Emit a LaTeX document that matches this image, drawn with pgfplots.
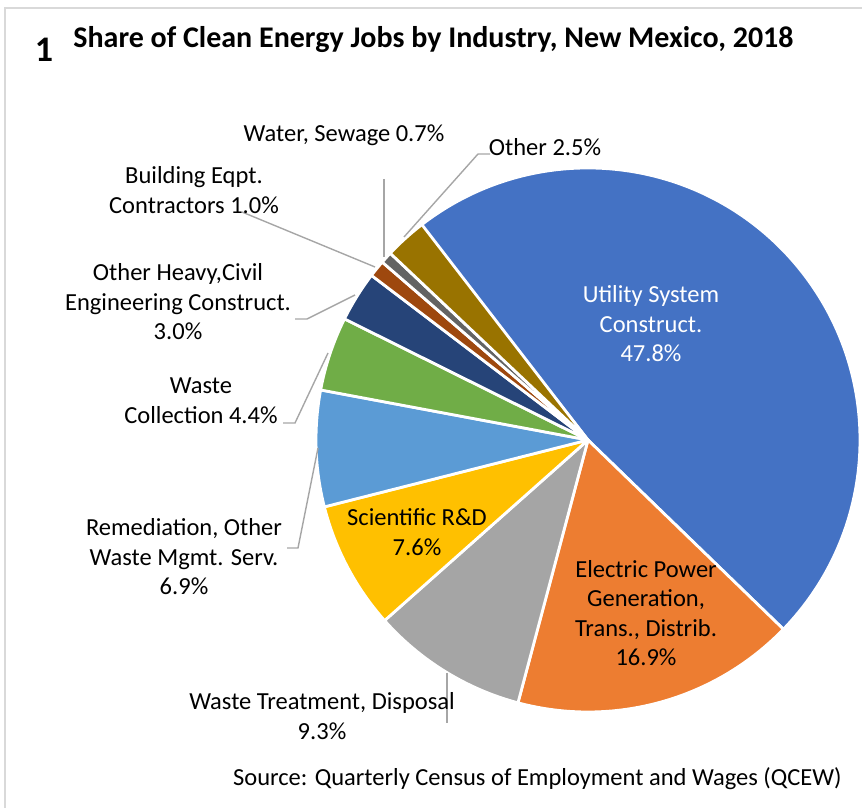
\documentclass[border=0pt]{standalone}
\usepackage{fontspec}
\setmainfont{Carlito}
\usepackage{pgfplots}
\usepackage{pgfplotstable}
\pgfplotsset{compat=1.18}
\definecolor{cUtil}{HTML}{4472C4}
\definecolor{cElec}{HTML}{ED7D31}
\definecolor{cWT}{HTML}{A5A5A5}
\definecolor{cSci}{HTML}{FFC000}
\definecolor{cRem}{HTML}{5B9BD5}
\definecolor{cWC}{HTML}{70AD47}
\definecolor{cOH}{HTML}{264478}
\definecolor{cBE}{HTML}{9E480E}
\definecolor{cWS}{HTML}{636363}
\definecolor{cOther}{HTML}{997300}
\definecolor{lead}{HTML}{A6A6A6}
\definecolor{frame}{HTML}{D9D9D9}

% share of clean energy jobs (%), clockwise from the first slice
\pgfplotstableread{
value col
47.8 cUtil
16.9 cElec
9.3  cWT
7.6  cSci
6.9  cRem
4.4  cWC
3.0  cOH
1.0  cBE
0.7  cWS
2.5  cOther
}\piedata

\def\pieslices{}
\def\curang{128}
\pgfplotsforeachungrouped \i in {0,...,9}{%
  \pgfplotstablegetelem{\i}{value}\of\piedata \let\sliceval\pgfplotsretval
  \pgfplotstablegetelem{\i}{col}\of\piedata \let\slicecol\pgfplotsretval
  \pgfmathsetmacro{\endang}{\curang-3.6*\sliceval}%
  \xdef\pieslices{\unexpanded\expandafter{\pieslices}%
    \noexpand\filldraw[fill=\slicecol,draw=white,line width=1.4pt,line join=round]
    (axis cs:588,368) -- ++(\curang:136pt) arc[start angle=\curang,end angle=\endang,radius=136pt] -- cycle;}%
  \global\let\curang\endang
}

\tikzset{lbl/.style={font=\fontsize{12.25}{14.8}\selectfont,align=center,inner sep=0pt}}

\begin{document}
\begin{tikzpicture}
\begin{axis}[
  width=431pt,height=404pt,scale only axis,
  xmin=0,xmax=862,ymin=0,ymax=808,
  hide axis,clip=false,
]
\path (axis cs:0,0) rectangle (axis cs:862,808);
\draw[frame,line width=0.8pt] (axis cs:5,0) -- (axis cs:5,800) -- (axis cs:862,800);
\pieslices
% leader lines
\draw[lead,line width=0.7pt] (axis cs:490,654) -- (axis cs:478,654) -- (axis cs:404,571);
\draw[lead,line width=0.7pt] (axis cs:384,629) -- (axis cs:384,551);
\draw[lead,line width=0.7pt] (axis cs:242,596) -- (axis cs:375,541);
\draw[lead,line width=0.7pt] (axis cs:295,489) -- (axis cs:307,489) -- (axis cs:355,513);
\draw[lead,line width=0.7pt] (axis cs:283,385) -- (axis cs:295,385) -- (axis cs:328,455);
\draw[lead,line width=0.7pt] (axis cs:287,260) -- (axis cs:298,260) -- (axis cs:318,360);
\draw[lead,line width=0.7pt] (axis cs:447,135) -- (axis cs:447,85);
% labels
\node[lbl,text=white] at (axis cs:651,484) {Utility System\\Construct.\\47.8\%};
\node[lbl] at (axis cs:646,195) {Electric Power\\Generation,\\Trans., Distrib.\\16.9\%};
\node[lbl] at (axis cs:322,92) {Waste Treatment, Disposal\\9.3\%};
\node[lbl] at (axis cs:417,276) {Scientific R\&D\\7.6\%};
\node[lbl] at (axis cs:184,251) {Remediation, Other\\Waste Mgmt. Serv.\\6.9\%};
\node[lbl] at (axis cs:201,407) {Waste\\Collection 4.4\%};
\node[lbl] at (axis cs:178,506) {Other Heavy,Civil\\Engineering Construct.\\3.0\%};
\node[lbl] at (axis cs:194,618) {Building Eqpt.\\Contractors 1.0\%};
\node[lbl] at (axis cs:344,673) {Water, Sewage 0.7\%};
\node[lbl] at (axis cs:545,661) {Other 2.5\%};
\node[lbl,anchor=east] at (axis cs:842,29) {Source: Quarterly Census of Employment and Wages (QCEW)};
\node[lbl,anchor=west,font=\fontsize{15}{17}\selectfont\bfseries] at (axis cs:73,768) {Share of Clean Energy Jobs by Industry, New Mexico, 2018};
\node[lbl,font=\fontsize{18}{20}\selectfont\bfseries] at (axis cs:44,758) {1};
\end{axis}
\pgfresetboundingbox
\useasboundingbox (0,0) rectangle (431pt,404pt);
\end{tikzpicture}
\end{document}
